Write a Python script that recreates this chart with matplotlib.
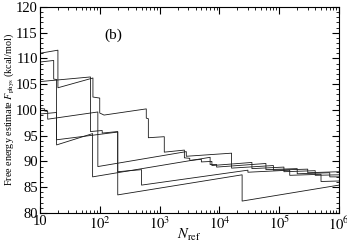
import matplotlib
matplotlib.use("Agg")
import matplotlib.pyplot as plt
from matplotlib.ticker import FixedLocator, FuncFormatter, MultipleLocator, LogLocator, NullFormatter

plt.rcParams['font.family'] = ['Liberation Serif', 'DejaVu Serif']
plt.rcParams['mathtext.fontset'] = 'stix'

# Each run: N_ref sample points and free energy estimate F_phys (kcal/mol)
n1 = [10, 20, 20, 77, 77, 100, 100, 118, 600, 600, 650, 650, 1200, 1200, 2600, 2600, 3200, 3200,
      5000, 5000, 7500, 7500, 3.5e4, 3.5e4, 1.2e5, 1.2e5, 4e5, 4e5, 1e6]
f1 = [111.0, 111.6, 104.3, 106.2, 102.5, 102.3, 99.4, 99.0, 100.2, 98.4, 98.3, 94.6, 94.8, 91.8,
      92.2, 90.7, 90.6, 90.2, 90.4, 89.9, 90.0, 89.2, 89.8, 88.6, 88.9, 88.0, 88.2, 87.3, 87.4]

n2 = [10, 17, 17, 19, 19, 76, 76, 7000, 7000, 9000, 9000, 6e4, 6e4, 2e5, 2e5, 7e5, 7e5, 1e6]
f2 = [109.3, 109.6, 106.0, 105.9, 93.2, 95.4, 87.0, 90.8, 89.4, 89.4, 88.9, 89.6, 88.4, 88.6,
      87.6, 87.8, 87.0, 87.0]

n3 = [10, 70, 70, 110, 110, 200, 200, 500, 500, 3e4, 3e4, 1.5e5, 1.5e5, 5e5, 5e5, 1e6]
f3 = [105.5, 106.4, 95.8, 96.0, 95.5, 95.8, 88.0, 88.4, 85.4, 88.3, 87.9, 88.3, 87.3, 87.5,
      86.1, 86.2]

n4 = [10, 12, 12, 13.5, 13.5, 93, 93, 2800, 2800, 1.6e4, 1.6e4, 8e4, 8e4, 3e5, 3e5, 1e6]
f4 = [100.3, 100.2, 99.8, 99.7, 98.2, 99.6, 89.0, 91.9, 91.0, 91.6, 88.7, 89.2, 88.3, 88.5,
      87.8, 88.0]

n5 = [10, 19, 19, 200, 200, 2.4e4, 2.4e4, 1e6]
f5 = [99.2, 99.5, 94.2, 95.7, 83.5, 87.4, 82.3, 85.4]

runs = [(n1, f1), (n2, f2), (n3, f3), (n4, f4), (n5, f5)]

xticks = [10, 1e2, 1e3, 1e4, 1e5, 1e6]
xticklabels = ['10', '$10^2$', '$10^3$', '$10^4$', '$10^5$', '$10^6$']

fig = plt.figure(figsize=(3.47, 2.47), dpi=100)
ax = fig.add_axes([0.115, 0.138, 0.862, 0.834])

for n, f in runs:
    ax.plot(n, f, color='#1a1a1a', lw=0.6)

ax.set_xscale('log')
ax.set_xlim(10, 1e6)
ax.set_ylim(80, 120)
ax.xaxis.set_major_locator(FixedLocator(xticks))
ax.xaxis.set_major_formatter(FuncFormatter(lambda v, p: xticklabels[xticks.index(v)] if v in xticks else ''))
ax.xaxis.set_minor_locator(LogLocator(base=10, subs=range(2, 10)))
ax.xaxis.set_minor_formatter(NullFormatter())
ax.yaxis.set_major_locator(MultipleLocator(5))
ax.yaxis.set_minor_locator(MultipleLocator(1))

ax.tick_params(which='both', direction='in', top=True, right=True, labelsize=10.5, pad=1.5)
ax.tick_params(which='major', length=5, width=0.8)
ax.tick_params(which='minor', length=2.5, width=0.6)
for s in ax.spines.values():
    s.set_linewidth(0.8)

ax.set_ylabel('Free energy estimate $F_{\\rm phys}$ (kcal/mol)', fontsize=7.3)
ax.yaxis.set_label_coords(-0.08, 0.5)
ax.set_xlabel('$N_{\\rm ref}$', fontsize=10.5)
ax.xaxis.set_label_coords(0.5, -0.07)
ax.text(170, 114.4, '(b)', fontsize=11, ha='center', va='center')

fig.savefig('out.png', dpi=100)
